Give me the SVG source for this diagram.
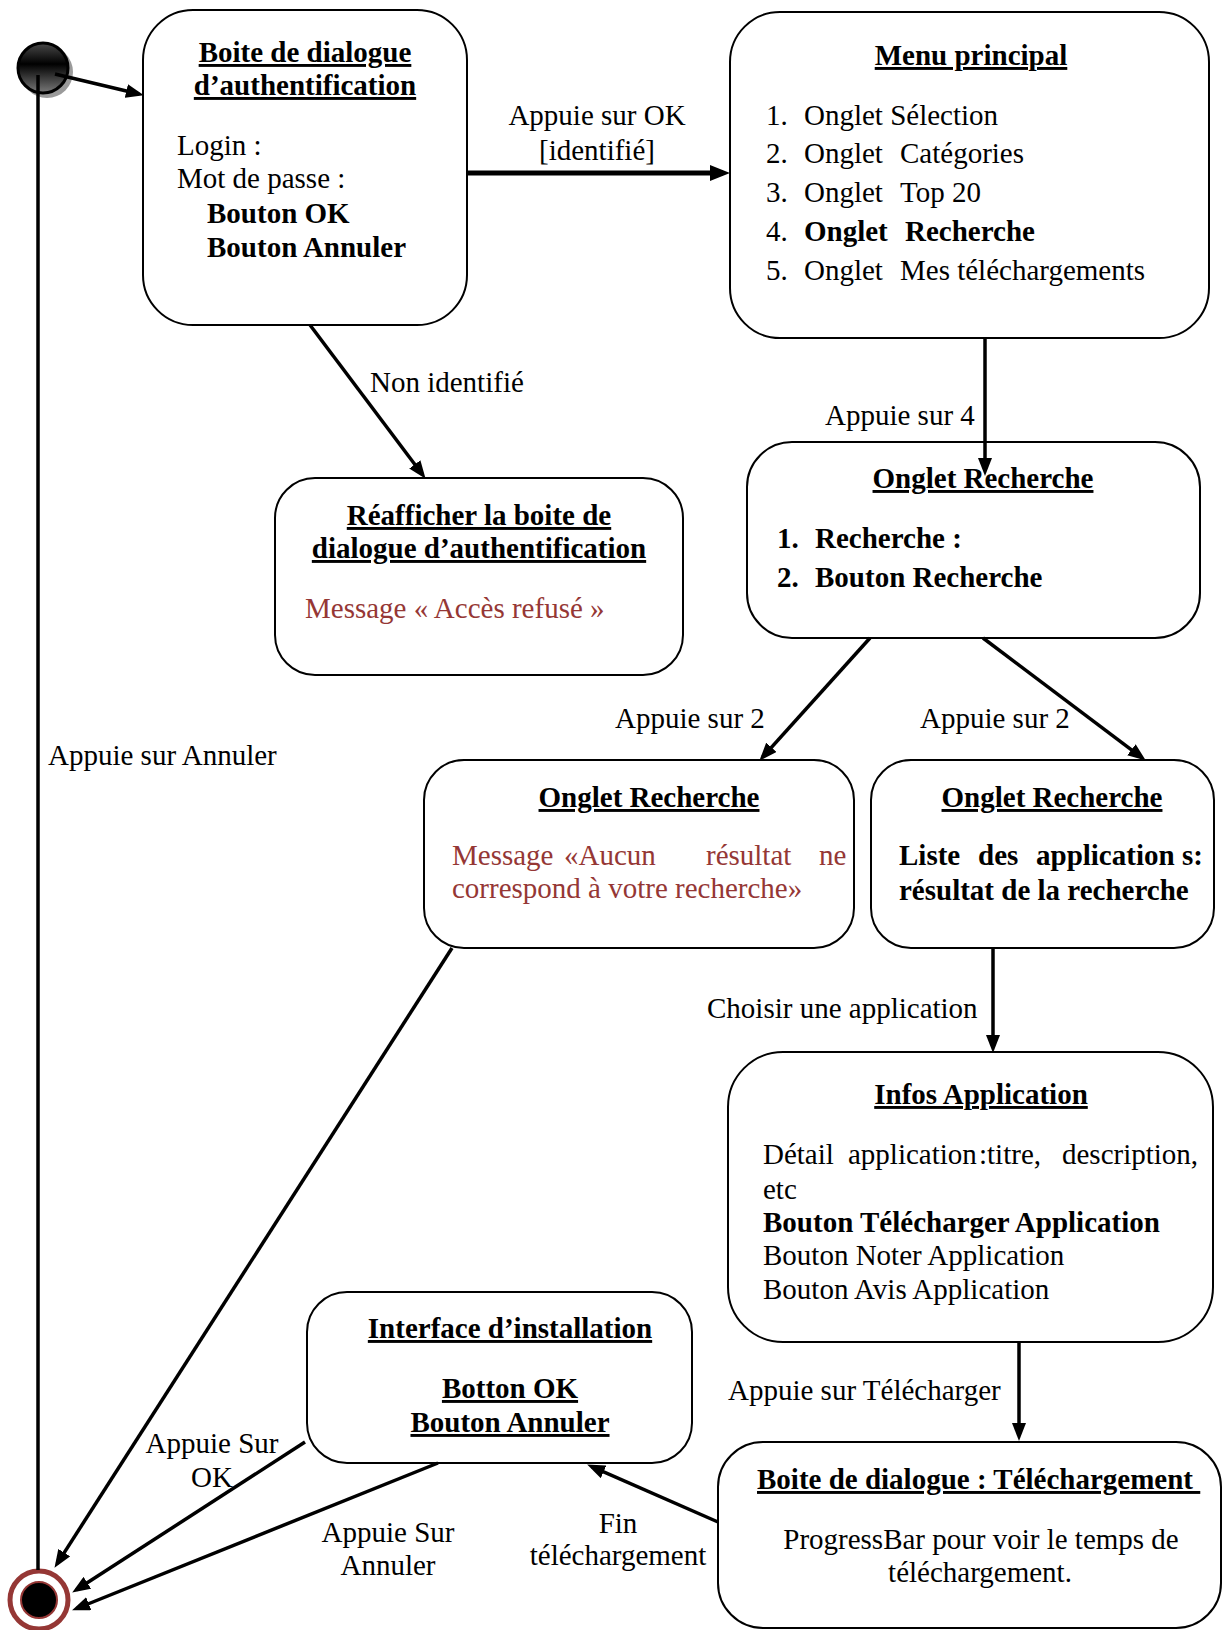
<svg xmlns="http://www.w3.org/2000/svg" width="1223" height="1630" viewBox="0 0 1223 1630">
  <style>
    text { font-family: "Liberation Serif", "Times New Roman", serif; font-size: 29px; fill: #000; }
    .b { font-weight: bold; }
    .u { text-decoration: underline; text-decoration-thickness: 2.5px; }
    .mid { text-anchor: middle; }
    .red { fill: #953735; }
    .box { fill: #fff; stroke: #000; stroke-width: 2; }
    .edge { fill: none; stroke: #000; stroke-width: 3.5; marker-end: url(#arrow); }
    .edge-thick { fill: none; stroke: #000; stroke-width: 5; marker-end: url(#arrowBig); }
  </style>
  <defs>
    <marker id="arrow" markerUnits="userSpaceOnUse" markerWidth="18" markerHeight="14" refX="13" refY="7" orient="auto">
      <path d="M0,0 L18,7 L0,14 Z" fill="#000"/>
    </marker>
    <marker id="arrowBig" markerUnits="userSpaceOnUse" markerWidth="20" markerHeight="16" refX="13" refY="8" orient="auto">
      <path d="M0,0 L20,8 L0,16 Z" fill="#000"/>
    </marker>
    <linearGradient id="ballShade" x1="0" y1="0" x2="0" y2="1">
      <stop offset="0" stop-color="#4a4a4a"/>
      <stop offset="0.42" stop-color="#000"/>
      <stop offset="1" stop-color="#7a7a7a"/>
    </linearGradient>
  </defs>

  <!-- initial pseudo-state -->
  <g id="start">
    <circle cx="47" cy="72" r="26" fill="#9a9a9a"/>
    <circle cx="43" cy="68" r="25" fill="url(#ballShade)" stroke="#000" stroke-width="3"/>
  </g>

  <!-- final state -->
  <g id="end">
    <circle cx="39" cy="1600" r="29" fill="#fff" stroke="#953735" stroke-width="5"/>
    <circle cx="39" cy="1600" r="18" fill="#000" stroke="#953735" stroke-width="2"/>
  </g>

  <g id="auth-dialog">
    <rect class="box" x="143" y="10" width="324" height="315" rx="50"/>
    <text class="b u mid" x="305" y="62">Boite de dialogue</text>
    <text class="b u mid" x="305" y="95">d’authentification</text>
    <text x="177" y="155">Login :</text>
    <text x="177" y="188">Mot de passe :</text>
    <text class="b" x="207" y="223">Bouton OK</text>
    <text class="b" x="207" y="257">Bouton Annuler</text>
  </g>

  <g id="main-menu">
    <rect class="box" x="730" y="12" width="479" height="326" rx="50"/>
    <text class="b u mid" x="971" y="65">Menu principal</text>
    <text x="766" y="125">1.</text><text x="804" y="125">Onglet Sélection</text>
    <text x="766" y="163">2.</text><text x="804" y="163">Onglet</text><text x="900" y="163">Catégories</text>
    <text x="766" y="202">3.</text><text x="804" y="202">Onglet</text><text x="900" y="202">Top 20</text>
    <text x="766" y="241">4.</text><text class="b" x="804" y="241">Onglet</text><text class="b" x="905" y="241">Recherche</text>
    <text x="766" y="280">5.</text><text x="804" y="280">Onglet</text><text x="900" y="280">Mes téléchargements</text>
  </g>

  <g id="auth-retry">
    <rect class="box" x="275" y="478" width="408" height="197" rx="40"/>
    <text class="b u mid" x="479" y="525">Réafficher la boite de</text>
    <text class="b u mid" x="479" y="558">dialogue d’authentification</text>
    <text class="red" x="305" y="618">Message « Accès refusé »</text>
  </g>

  <g id="search-tab">
    <rect class="box" x="747" y="442" width="453" height="196" rx="45"/>
    <text class="b u mid" x="983" y="488">Onglet Recherche</text>
    <text class="b" x="777" y="548">1.</text><text class="b" x="815" y="548">Recherche :</text>
    <text class="b" x="777" y="587">2.</text><text class="b" x="815" y="587">Bouton Recherche</text>
  </g>

  <g id="search-empty">
    <rect class="box" x="424" y="760" width="430" height="188" rx="40"/>
    <text class="b u mid" x="649" y="807">Onglet Recherche</text>
    <text class="red" y="865"><tspan x="452">Message</tspan><tspan x="564">«Aucun</tspan><tspan x="706">résultat</tspan><tspan x="819">ne</tspan></text>
    <text class="red" x="452" y="898">correspond à votre recherche»</text>
  </g>

  <g id="search-results">
    <rect class="box" x="871" y="760" width="343" height="188" rx="40"/>
    <text class="b u mid" x="1052" y="807">Onglet Recherche</text>
    <text class="b" y="865"><tspan x="899">Liste</tspan><tspan x="978">des</tspan><tspan x="1036">application</tspan><tspan x="1182">s:</tspan></text>
    <text class="b" x="899" y="900">résultat de la recherche</text>
  </g>

  <g id="app-info">
    <rect class="box" x="728" y="1052" width="485" height="290" rx="55"/>
    <text class="b u mid" x="981" y="1104">Infos Application</text>
    <text y="1164"><tspan x="763">Détail</tspan><tspan x="848">application</tspan><tspan x="979">:titre,</tspan><tspan x="1062">description,</tspan></text>
    <text x="763" y="1199">etc</text>
    <text class="b" x="763" y="1232">Bouton Télécharger Application</text>
    <text x="763" y="1265">Bouton Noter Application</text>
    <text x="763" y="1299">Bouton Avis Application</text>
  </g>

  <g id="install-ui">
    <rect class="box" x="307" y="1292" width="385" height="171" rx="40"/>
    <text class="b u mid" x="510" y="1338">Interface d’installation</text>
    <text class="b u mid" x="510" y="1398">Botton OK</text>
    <text class="b u mid" x="510" y="1432">Bouton Annuler</text>
  </g>

  <g id="download-dialog">
    <rect class="box" x="718" y="1442" width="503" height="186" rx="45"/>
    <text class="b u" x="757" y="1489" xml:space="preserve">Boite de dialogue : Téléchargement </text>
    <text class="mid" x="981" y="1549">ProgressBar pour voir le temps de</text>
    <text class="mid" x="980" y="1582">téléchargement.</text>
  </g>

  <g id="connectors">
    <line x1="38" y1="75" x2="38" y2="1570" stroke="#000" stroke-width="3.5"/>
    <line class="edge" x1="55" y1="74" x2="139" y2="94"/>
    <line class="edge-thick" x1="467" y1="173" x2="723" y2="173"/>
    <line class="edge" x1="310" y1="325" x2="422.6" y2="474.8"/>
    <line class="edge" x1="985" y1="338" x2="985" y2="471"/>
    <line class="edge" x1="870" y1="638" x2="762.7" y2="757"/>
    <line class="edge" x1="983" y1="638" x2="1141.8" y2="757.6"/>
    <line class="edge" x1="993" y1="948" x2="993" y2="1048"/>
    <line class="edge" x1="1019" y1="1342" x2="1019" y2="1436"/>
    <line class="edge" x1="718" y1="1522" x2="591.7" y2="1466.6"/>
    <line class="edge" x1="452" y1="948" x2="57.2" y2="1563.6"/>
    <line class="edge" x1="305" y1="1442" x2="76.4" y2="1589.8"/>
    <line class="edge" x1="438" y1="1463" x2="76.7" y2="1608.5"/>

    <text class="mid" x="597" y="125">Appuie sur OK</text>
    <text class="mid" x="597" y="160">[identifié]</text>
    <text x="370" y="392">Non identifié</text>
    <text x="825" y="425">Appuie sur 4</text>
    <text x="615" y="728">Appuie sur 2</text>
    <text x="920" y="728">Appuie sur 2</text>
    <text x="48" y="765">Appuie sur Annuler</text>
    <text x="707" y="1018">Choisir une application</text>
    <text x="728" y="1400">Appuie sur Télécharger</text>
    <text class="mid" x="212" y="1453">Appuie Sur</text>
    <text class="mid" x="212" y="1487">OK</text>
    <text class="mid" x="388" y="1542">Appuie Sur</text>
    <text class="mid" x="388" y="1575">Annuler</text>
    <text class="mid" x="618" y="1533">Fin</text>
    <text class="mid" x="618" y="1565">téléchargement</text>
  </g>
</svg>
